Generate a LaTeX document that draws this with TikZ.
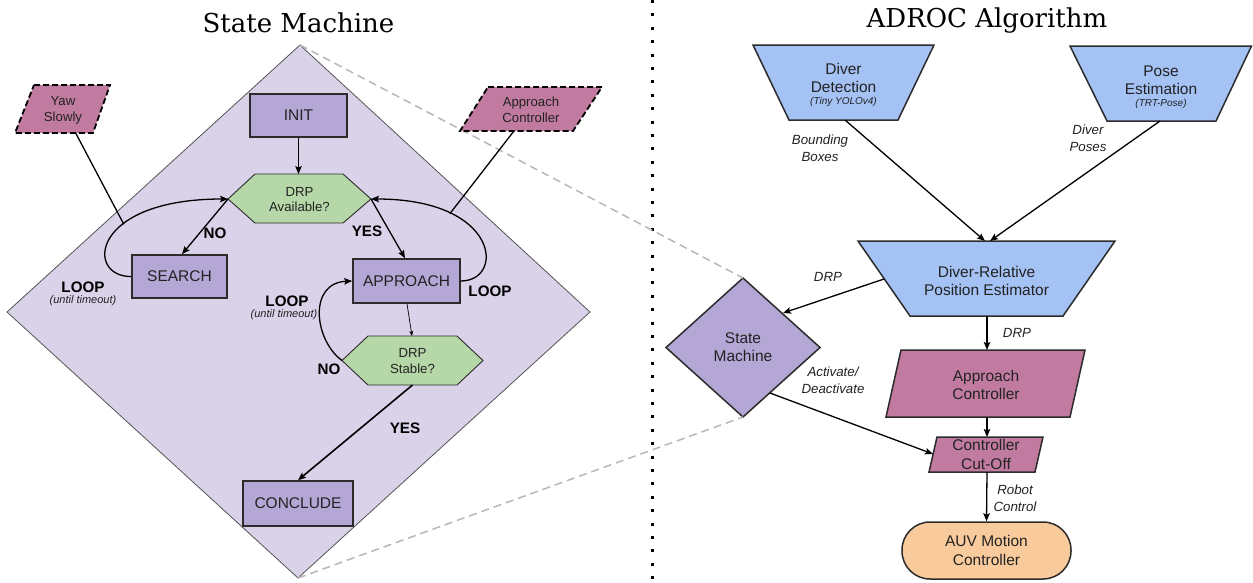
\documentclass[tikz,border=0pt]{standalone}
\usepackage{fontspec}
\setmainfont{Liberation Sans}
\newfontfamily\ttlfamily{DejaVu Serif}
\usetikzlibrary{arrows.meta,shapes.geometric,calc}
\definecolor{bgpurple}{HTML}{D9D2E9}
\definecolor{stpurple}{HTML}{B4A7D6}
\definecolor{hexgreen}{HTML}{B6D7A8}
\definecolor{magen}{HTML}{C27BA0}
\definecolor{lblue}{HTML}{A4C2F4}
\definecolor{peach}{HTML}{F9CB9C}
\definecolor{edgedark}{HTML}{2B2B2B}
\definecolor{edgegray}{HTML}{555555}
\definecolor{zoomgray}{HTML}{B7B7B7}
\definecolor{txtdark}{HTML}{222222}
\newcommand{\fzMain}{\fontsize{15.5}{18.3}\selectfont}
\newcommand{\fzSmall}{\fontsize{13.2}{15.7}\selectfont}
\newcommand{\fzLab}{\fontsize{13.3}{16.6}\selectfont\itshape}
\newcommand{\fzSub}{\fontsize{10}{12}\selectfont\itshape}
\newcommand{\fzBold}{\fontsize{15.2}{18}\selectfont\bfseries}
\newcommand{\fzTiny}{\fontsize{11}{13}\selectfont\itshape}
\newcommand{\fzTitle}{\ttlfamily\fontsize{26}{30}\selectfont}
\begin{document}
\begin{tikzpicture}[x=1pt,y=-1pt,
  arr/.style={-{Stealth[length=8pt,width=6.5pt,inset=1.5pt]}, line width=1.3pt, draw=black},
  thinarr/.style={-{Stealth[length=5pt,width=4pt,inset=1pt]}, line width=0.7pt, draw=black},
  lnk/.style={line width=1.3pt, draw=black},
  statebox/.style={draw=edgedark, line width=1.6pt, fill=stpurple, inner sep=0pt, font=\fzMain, text=txtdark},
  hexs/.style={draw=edgedark, line width=0.9pt, fill=hexgreen},
  dashpar/.style={draw=black, line width=1.8pt, dash pattern=on 6pt off 3pt, fill=magen},
  trap/.style={draw=edgedark, line width=1.5pt, fill=lblue},
  magpar/.style={draw=edgedark, line width=1.5pt, fill=magen},
  maintxt/.style={font=\fzMain, align=center, inner sep=0pt, text=txtdark},
  smalltxt/.style={font=\fzSmall, align=center, inner sep=0pt, text=txtdark},
  subtxt/.style={font=\fzSub, align=center, inner sep=0pt, text=txtdark},
  labtxt/.style={font=\fzLab, align=center, inner sep=0pt, text=txtdark},
  boldtxt/.style={font=\fzBold, inner sep=0pt, text=black},
  tinytxt/.style={font=\fzTiny, inner sep=0pt, text=txtdark},
  ttl/.style={font=\fzTitle, inner sep=0pt, anchor=base, text=black},
  zoomline/.style={draw=zoomgray, line width=1.5pt, dash pattern=on 8pt off 5pt}
]
\useasboundingbox (0,0) rectangle (1253,582);

% titles
\node[ttl] (ttlA) at (298.5,32) {State Machine};
\node[ttl] (ttlB) at (987,27) {ADROC Algorithm};

% separator
\coordinate (sepT) at (652,0);
\coordinate (sepB) at (652,582);
\draw[line width=3pt, dash pattern=on 3pt off 10.4pt] (sepT) -- (sepB);

% big diamond
\coordinate (bigT) at (300,45);
\coordinate (bigR) at (590,312);
\coordinate (bigB) at (298,578);
\coordinate (bigL) at (7,312);
\draw[fill=bgpurple, draw=edgegray, line width=0.8pt] (bigT) -- (bigR) -- (bigB) -- (bigL) -- cycle;

% small state machine diamond
\node[diamond, draw=edgedark, line width=1.5pt, fill=stpurple, minimum width=154pt, minimum height=139pt,
      inner sep=0pt, outer sep=0pt, align=center, font=\fzMain, text=txtdark] (sm) at (743,347.5) {State\\Machine};

% zoom lines
\draw[zoomline] (bigT) -- (sm.north);
\draw[zoomline] (bigB) -- (sm.south);

% state boxes
\node[statebox, minimum width=97pt, minimum height=43pt] (init) at (298.5,115.5) {INIT};
\node[statebox, minimum width=95pt, minimum height=43pt] (search) at (179.5,276.5) {SEARCH};
\node[statebox, minimum width=107pt, minimum height=44pt] (approach) at (406.5,281) {APPROACH};
\node[statebox, minimum width=110pt, minimum height=45pt] (conclude) at (298,503.5) {CONCLUDE};

% hexagons
\draw[hexs] (228,199) coordinate (availW) -- (255,174) -- (343,174) -- (371,199) coordinate (availE) -- (343,223) -- (255,223) -- cycle;
\node[smalltxt] (avail) at (299.5,199.5) {DRP\\Available?};
\coordinate (availN) at (298.5,174);
\draw[hexs] (342,360.5) coordinate (stableW) -- (368,336) -- (457,336) -- (483,360.5) -- (457,385) -- (368,385) -- cycle;
\node[smalltxt] (stable) at (412.5,361) {DRP\\Stable?};
\coordinate (stableN) at (412,336);
\coordinate (stableS) at (412.5,385);

% loops
\draw[arr] (search.west) .. controls (85,277) and (90,199) .. (availW) coordinate[pos=0.62] (loopS);
\draw[arr] (approach.east) .. controls (505,281) and (500,199) .. (availE) coordinate[pos=0.73] (loopA);
\draw[arr] (stableW) .. controls (314,340) and (308,283) .. (approach.west);

% links from dashed behaviours
\coordinate (yawC) at (63,109);
\coordinate (acdC) at (531,109);
\draw[lnk] (yawC) -- (loopS);
\draw[lnk] (acdC) -- (loopA);

% dashed parallelograms
\draw[dashpar] (34,85) -- (110,85) -- (93,133) -- (15,133) -- cycle;
\node[smalltxt] (yaw) at (63,110) {Yaw\\Slowly};
\draw[dashpar] (488,87) -- (602,87) -- (573,131) -- (460,131) -- cycle;
\node[smalltxt] (acd) at (531,110) {Approach\\Controller};

% state arrows
\draw[arr] (init.south) -- (availN);
\draw[arr] (availW) -- (search.north -| 182,0);
\draw[arr] (availE) -- (approach.north -| 405,0);
\draw[thinarr] (approach.south -| 407,0) -- (stableN);
\draw[arr, line width=1.6pt] (stableS) -- (conclude.north);

% state labels
\node[boldtxt] (noA) at (215,233) {NO};
\node[boldtxt] (yesA) at (367,231) {YES};
\node[boldtxt] (loopR) at (490,291) {LOOP};
\node[boldtxt] (loopL) at (83,287) {LOOP};
\node[tinytxt] (toL) at (83,301) {(until timeout)};
\node[boldtxt] (loopM) at (287,301) {LOOP};
\node[tinytxt] (toM) at (284,315) {(until timeout)};
\node[boldtxt] (noB) at (329,369) {NO};
\node[boldtxt] (yesB) at (405,428) {YES};

% right: modules
\draw[trap] (753,45) -- (934,45) -- (898,120) -- (789,120) -- cycle;
\node[maintxt] (dd) at (843.5,78) {Diver\\Detection};
\node[subtxt] (ddsub) at (843.5,102) {(Tiny YOLOv4)};
\coordinate (ddS) at (845,120);

\draw[trap] (1070,46) -- (1251.5,46) -- (1216,121) -- (1107,121) -- cycle;
\node[maintxt] (pe) at (1161,80) {Pose\\Estimation};
\node[subtxt] (pesub) at (1161,103.5) {(TRT-Pose)};
\coordinate (peS) at (1160,121);

\draw[trap] (858,241) -- (1115,241) -- (1063,316) -- (910,316) -- cycle;
\node[maintxt] (drpe) at (986.5,281) {Diver-Relative\\Position Estimator};
\coordinate (drpeN1) at (985,241);
\coordinate (drpeN2) at (990,241);
\coordinate (drpeW) at (884,279);
\coordinate (drpeS) at (987,316);

\draw[magpar] (901,350) -- (1085,350) -- (1070,417) -- (886,417) -- cycle;
\node[maintxt] (ac) at (986,385) {Approach\\Controller};
\coordinate (acN) at (987,350);
\coordinate (acS) at (987,417);

\draw[magpar] (937,437) -- (1043,437) -- (1035,472) -- (929,472) -- cycle;
\node[maintxt] (cut) at (986,454.5) {Controller\\Cut-Off};
\coordinate (cutN) at (987,437);
\coordinate (cutS) at (987,472);
\coordinate (cutW) at (933,454);

\node[draw=edgedark, line width=1.5pt, fill=peach, rounded corners=28pt, minimum width=169pt, minimum height=57pt,
      inner sep=0pt, align=center, font=\fzMain, text=txtdark] (auv) at (986.5,550.5) {AUV Motion\\Controller};

\coordinate (smNE) at (783,313);
\coordinate (smSE) at (770,393);

% right arrows
\draw[arr] (ddS) -- (drpeN1);
\draw[arr] (peS) -- (drpeN2);
\draw[arr] (drpeW) -- (smNE);
\draw[arr] (drpeS) -- (acN);
\draw[arr] (acS) -- (cutN);
\draw[arr] (smSE) -- (cutW);
\draw[arr] (cutS) -- (auv.north);

% right labels
\node[labtxt] (lbb) at (820,148) {Bounding\\Boxes};
\node[labtxt] (ldp) at (1088,138) {Diver\\Poses};
\node[labtxt] (ldrp1) at (828,277) {DRP};
\node[labtxt] (ldrp2) at (1017,333) {DRP};
\node[labtxt] (lact) at (833,380) {Activate/\\Deactivate};
\node[labtxt] (lrc) at (1015,498) {Robot\\Control};
\end{tikzpicture}
\end{document}
